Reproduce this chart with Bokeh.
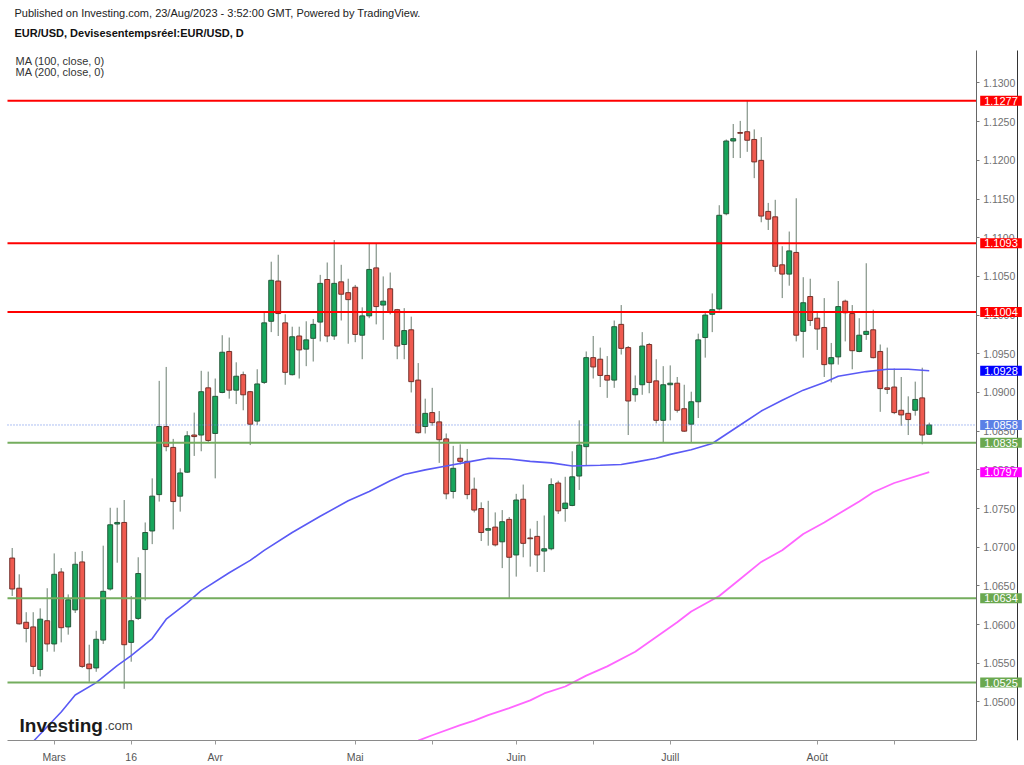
import pandas as pd
from bokeh.plotting import figure
from bokeh.models import Range1d, FixedTicker, PrintfTickFormatter, Label, ColumnDataSource, LinearAxis
from bokeh.embed import file_html
from bokeh.resources import INLINE

# ---------------- data ----------------
dates = pd.bdate_range("2023-02-21", "2023-08-23")

opens = [1.0686, 1.0647, 1.0603, 1.0597, 1.0542, 1.0605, 1.0575, 1.0668, 1.0597, 1.0619,
         1.0681, 1.0549, 1.0544, 1.0580, 1.0646, 1.0730, 1.0732, 1.0577, 1.0608, 1.0697,
         1.0721, 1.0768, 1.0856, 1.0829, 1.0766, 1.0797, 1.0845, 1.0845, 1.0906, 1.0847,
         1.0900, 1.0953, 1.0903, 1.0923, 1.0901, 1.0863, 1.0913, 1.0992, 1.1044, 1.0990,
         1.0923, 1.0973, 1.0956, 1.0970, 1.0991, 1.1046, 1.0973, 1.1043, 1.1029, 1.1036,
         1.0974, 1.0999, 1.1061, 1.1013, 1.1034, 1.1007, 1.0962, 1.0981, 1.0916, 1.0856,
         1.0874, 1.0862, 1.0840, 1.0772, 1.0815, 1.0811, 1.0775, 1.0750, 1.0722, 1.0726,
         1.0707, 1.0736, 1.0690, 1.0762, 1.0712, 1.0714, 1.0695, 1.0698, 1.0783, 1.0750,
         1.0754, 1.0792, 1.0830, 1.0945, 1.0943, 1.0922, 1.0916, 1.0988, 1.0958, 1.0897,
         1.0910, 1.0962, 1.0915, 1.0864, 1.0910, 1.0912, 1.0879, 1.0859, 1.0888, 1.0971,
         1.1001, 1.1008, 1.1131, 1.1225, 1.1236, 1.1237, 1.1227, 1.1200, 1.1134, 1.1127,
         1.1065, 1.1053, 1.1081, 1.0979, 1.1024, 1.0996, 1.0984, 1.0937, 1.0946, 1.1018,
         1.1002, 1.0953, 1.0975, 1.0981, 1.0953, 1.0906, 1.0907, 1.0877, 1.0873, 1.0877,
         1.0893, 1.0846]
highs = [1.0699, 1.0665, 1.0616, 1.0616, 1.0621, 1.0647, 1.0692, 1.0673, 1.0639, 1.0694,
         1.0695, 1.0574, 1.0592, 1.0702, 1.0751, 1.0751, 1.0761, 1.0637, 1.0687, 1.0732,
         1.0789, 1.0915, 1.0933, 1.0840, 1.0802, 1.0850, 1.0874, 1.0928, 1.0927, 1.0918,
         1.0974, 1.0971, 1.0939, 1.0927, 1.0902, 1.0930, 1.1003, 1.1069, 1.1078, 1.1001,
         1.0985, 1.0985, 1.0992, 1.0995, 1.1052, 1.1068, 1.1097, 1.1065, 1.1047, 1.1039,
         1.1010, 1.1093, 1.1093, 1.1050, 1.1055, 1.1008, 1.1009, 1.0998, 1.0938, 1.0892,
         1.0906, 1.0876, 1.0847, 1.0831, 1.0833, 1.0827, 1.0790, 1.0758, 1.0760, 1.0745,
         1.0748, 1.0739, 1.0769, 1.0781, 1.0724, 1.0734, 1.0741, 1.0789, 1.0786, 1.0791,
         1.0824, 1.0864, 1.0953, 1.0973, 1.0958, 1.0947, 1.0993, 1.1013, 1.0960, 1.0922,
         1.0978, 1.0964, 1.0943, 1.0934, 1.0935, 1.0920, 1.0910, 1.0901, 1.0976, 1.1005,
         1.1028, 1.1142, 1.1227, 1.1247, 1.1251, 1.1277, 1.1240, 1.1230, 1.1145, 1.1149,
         1.1089, 1.1108, 1.1151, 1.1049, 1.1047, 1.1003, 1.1022, 1.0964, 1.1044, 1.1020,
         1.1013, 1.0996, 1.1067, 1.1007, 1.0962, 1.0958, 1.0931, 1.0920, 1.0895, 1.0914,
         1.0932, 1.0861]
lows = [1.0637, 1.0600, 1.0577, 1.0536, 1.0533, 1.0565, 1.0565, 1.0577, 1.0587, 1.0615,
        1.0544, 1.0526, 1.0539, 1.0575, 1.0644, 1.0680, 1.0517, 1.0552, 1.0606, 1.0631,
        1.0704, 1.0759, 1.0824, 1.0723, 1.0746, 1.0796, 1.0818, 1.0824, 1.0836, 1.0789,
        1.0899, 1.0892, 1.0885, 1.0877, 1.0832, 1.0858, 1.0911, 1.0978, 1.0973, 1.0910,
        1.0922, 1.0918, 1.0934, 1.0940, 1.0966, 1.0965, 1.0968, 1.0993, 1.0963, 1.0965,
        1.0943, 1.0996, 1.0988, 1.0968, 1.1001, 1.0943, 1.0943, 1.0900, 1.0847, 1.0847,
        1.0857, 1.0809, 1.0762, 1.0763, 1.0807, 1.0762, 1.0745, 1.0708, 1.0702, 1.0701,
        1.0673, 1.0634, 1.0662, 1.0687, 1.0675, 1.0668, 1.0668, 1.0696, 1.0743, 1.0733,
        1.0753, 1.0774, 1.0805, 1.0918, 1.0907, 1.0893, 1.0906, 1.0949, 1.0845, 1.0888,
        1.0897, 1.0899, 1.0860, 1.0835, 1.0864, 1.0874, 1.0849, 1.0835, 1.0867, 1.0945,
        1.0978, 1.1006, 1.1129, 1.1203, 1.1203, 1.1211, 1.1177, 1.1120, 1.1110, 1.1056,
        1.1022, 1.1038, 1.0966, 1.0945, 1.0986, 1.0955, 1.0920, 1.0913, 1.0936, 1.0966,
        1.0930, 1.0952, 1.0968, 1.0944, 1.0875, 1.0898, 1.0872, 1.0857, 1.0845, 1.0870,
        1.0833, 1.0845]
closes = [1.0646, 1.0601, 1.0595, 1.0546, 1.0607, 1.0575, 1.0665, 1.0596, 1.0632, 1.0678,
          1.0546, 1.0543, 1.0581, 1.0643, 1.0729, 1.0732, 1.0574, 1.0605, 1.0666, 1.0719,
          1.0766, 1.0856, 1.0830, 1.0759, 1.0796, 1.0844, 1.0843, 1.0901, 1.0838, 1.0895,
          1.0952, 1.0903, 1.0921, 1.0897, 1.0859, 1.0911, 1.0990, 1.1045, 1.1002, 1.0926,
          1.0972, 1.0955, 1.0968, 1.0988, 1.1041, 1.0973, 1.1041, 1.1027, 1.1020, 1.0975,
          1.0999, 1.1059, 1.1011, 1.1018, 1.1004, 1.0960, 1.0980, 1.0914, 1.0848, 1.0873,
          1.0861, 1.0839, 1.0769, 1.0802, 1.0811, 1.0768, 1.0748, 1.0719, 1.0724, 1.0703,
          1.0733, 1.0687, 1.0761, 1.0705, 1.0711, 1.0690, 1.0698, 1.0781, 1.0747, 1.0757,
          1.0791, 1.0832, 1.0945, 1.0933, 1.0922, 1.0916, 1.0985, 1.0957, 1.0889, 1.0905,
          1.0960, 1.0913, 1.0864, 1.0910, 1.0912, 1.0877, 1.0850, 1.0888, 1.0968, 1.1000,
          1.1007, 1.1129, 1.1225, 1.1228, 1.1235, 1.1226, 1.1198, 1.1128, 1.1124, 1.1063,
          1.1053, 1.1083, 1.0974, 1.1016, 1.0993, 1.0982, 1.0936, 1.0945, 1.1011, 1.1003,
          1.0954, 1.0974, 1.0979, 1.0945, 1.0905, 1.0904, 1.0874, 1.0871, 1.0865, 1.0891,
          1.0845, 1.0858]

# moving averages, sampled along the drawn curves (candle index, value)
ma100_idx = [3, 7, 9, 12, 15, 17, 20, 22, 25, 27, 31, 34, 36, 40, 44, 48, 51, 54, 56, 59,
             62, 65, 68, 71, 74, 77, 80, 84, 87, 89, 92, 94, 97, 100, 102, 104, 107, 110,
             113, 116, 118, 122, 125, 128, 131]
ma100_val = [1.0449, 1.0487, 1.0509, 1.0525, 1.0547, 1.0560, 1.0582, 1.0607, 1.0628, 1.0644,
             1.0667, 1.0683, 1.0696, 1.0719, 1.0740, 1.0760, 1.0772, 1.0786, 1.0794, 1.0800,
             1.0805, 1.0810, 1.0815, 1.0814, 1.0811, 1.0809, 1.0805, 1.0806, 1.0807, 1.0810,
             1.0815, 1.0820, 1.0826, 1.0834, 1.0846, 1.0858, 1.0876, 1.0890, 1.0903, 1.0913,
             1.0921, 1.0927, 1.0930, 1.0930, 1.0928]
ma200_idx = [58, 60, 64, 66, 68, 71, 74, 76, 79, 82, 85, 89, 92, 95, 97, 101, 104, 107, 110,
             113, 116, 118, 121, 123, 126, 131]
ma200_val = [1.0450, 1.0457, 1.0470, 1.0476, 1.0483, 1.0492, 1.0502, 1.0511, 1.0520, 1.0534,
             1.0546, 1.0565, 1.0584, 1.0603, 1.0617, 1.0637, 1.0659, 1.0681, 1.0696, 1.0717,
             1.0732, 1.0743, 1.0759, 1.0771, 1.0783, 1.0797]

resistance_levels = [1.1277, 1.1093, 1.1004]
support_levels = [1.0835, 1.0634, 1.0525]

y_tick_vals = [1.0500, 1.0550, 1.0600, 1.0650, 1.0700, 1.0750, 1.0800, 1.0850, 1.0900,
               1.0950, 1.1000, 1.1050, 1.1100, 1.1150, 1.1200, 1.1250, 1.1300]
x_tick_dates = ["2023-03-01", "2023-03-16", "2023-04-03", "2023-05-01", "2023-05-16",
                "2023-06-01", "2023-06-16", "2023-07-03", "2023-08-01", "2023-08-16"]
x_tick_labels = ["Mars", "16", "Avr", "Mai", "", "Juin", "", "Juill", "Août", ""]

header_1 = "Published on Investing.com, 23/Aug/2023 - 3:52:00 GMT, Powered by TradingView."
header_2 = "EUR/USD, Devisesentempsréel:EUR/USD, D"
legend_1 = "MA (100, close, 0)"
legend_2 = "MA (200, close, 0)"

# ---------------- layout / styles ----------------
FONT = "Liberation Sans"
UP_FILL, UP_LINE = "#17a65c", "#25583a"
DN_FILL, DN_LINE = "#ef5a4f", "#74302a"
WICK = "#6b7d70"
RED = "#ff0000"
GREEN = "#6aa84f"
GREEN_LINE = "#74ad5e"
BLUE_MA = "#5a5af5"
PINK_MA = "#ff66ff"
LAST_COL = "#5b80e6"

X_START, X_END = -1.671, 144.61          # plot frame spans the full page width
Y_START, Y_END = 1.04502, 1.14066        # frame spans page top to the time axis
PANE_LEFT = -0.671                       # left edge of the price pane
PRICE_AXIS_X = 137.71                    # position of the price scale
BORDER_X = 143.61                        # right edge of the price scale
PANE_TOP = 1.13422

n = len(opens)
xs = list(range(n))
up = [c >= o for o, c in zip(opens, closes)]
src = ColumnDataSource(dict(
    x=xs, high=highs, low=lows,
    top=[max(o, c) for o, c in zip(opens, closes)],
    bottom=[min(o, c) for o, c in zip(opens, closes)],
    fill=[UP_FILL if u else DN_FILL for u in up],
    line=[UP_LINE if u else DN_LINE for u in up],
))

p = figure(width=1024, height=765, output_backend="svg", toolbar_location=None,
           x_range=Range1d(X_START, X_END), y_range=Range1d(Y_START, Y_END),
           y_axis_location=None, min_border_left=0, min_border_right=0,
           min_border_top=0, min_border_bottom=23)
p.xgrid.visible = False
p.ygrid.visible = False
p.outline_line_color = None
p.background_fill_color = "white"
p.border_fill_color = "white"

# time axis
tick_pos = [int(dates.get_loc(pd.Timestamp(d))) for d in x_tick_dates]
xa = p.xaxis[0]
xa.ticker = FixedTicker(ticks=tick_pos)
xa.major_label_overrides = {t: lab for t, lab in zip(tick_pos, x_tick_labels)}
xa.bounds = (PANE_LEFT, PRICE_AXIS_X)
xa.axis_line_color = "#8a8a8a"
xa.major_tick_line_color = "#9a9a9a"
xa.major_tick_in = 0
xa.major_tick_out = 4
xa.minor_tick_line_color = None
xa.major_label_text_font = FONT
xa.major_label_text_font_size = "10.5px"
xa.major_label_text_color = "#555555"
xa.major_label_standoff = 6

# price axis (placed inside the frame at the price-scale position)
ya = LinearAxis(fixed_location=PRICE_AXIS_X, ticker=FixedTicker(ticks=y_tick_vals),
                formatter=PrintfTickFormatter(format="%.4f"), bounds=(Y_START, PANE_TOP))
ya.axis_line_color = "#666666"
ya.major_tick_line_color = "#777777"
ya.major_tick_in = 0
ya.major_tick_out = 3
ya.minor_tick_line_color = None
ya.major_label_text_font = FONT
ya.major_label_text_font_size = "10.5px"
ya.major_label_text_color = "#707070"
ya.major_label_standoff = 4
p.add_layout(ya, "right")

# right border of the price scale
yb = LinearAxis(fixed_location=BORDER_X, ticker=FixedTicker(ticks=[]), bounds=(Y_START, PANE_TOP))
yb.axis_line_color = "#333333"
yb.major_tick_line_color = None
yb.minor_tick_line_color = None
yb.major_label_text_font_size = "0px"
p.add_layout(yb, "right")

# horizontal levels (drawn first, under candles? TradingView draws them on top)
lv_all = resistance_levels + support_levels
lv_col = [RED] * len(resistance_levels) + [GREEN_LINE] * len(support_levels)

# candles
p.segment(x0="x", y0="low", x1="x", y1="high", source=src, line_color=WICK, line_width=1)
p.vbar(x="x", width=0.7, top="top", bottom="bottom", source=src,
       fill_color="fill", line_color="line", line_width=1)

# moving averages
p.line(ma100_idx, ma100_val, line_color=BLUE_MA, line_width=1.6)
p.line(ma200_idx, ma200_val, line_color=PINK_MA, line_width=1.8)

# level lines and last-price line, across the pane up to the price scale
p.segment(x0=[PANE_LEFT] * len(lv_all), x1=[PRICE_AXIS_X] * len(lv_all),
          y0=lv_all, y1=lv_all, line_color=lv_col, line_width=2)
p.segment(x0=[PANE_LEFT], x1=[PRICE_AXIS_X], y0=[closes[-1]], y1=[closes[-1]],
          line_color=LAST_COL, line_width=1, line_dash="1 2")

# price tags on the price scale
tags = [(v, RED) for v in resistance_levels] + [(ma100_val[-1], "#0000ff"),
        (closes[-1], LAST_COL), (support_levels[0], GREEN), (ma200_val[-1], "#ff00ff"),
        (support_levels[1], GREEN), (support_levels[2], GREEN)]
for v, col in tags:
    p.add_layout(Label(x=PRICE_AXIS_X, y=v, x_offset=4, text="%.4f" % v,
                       text_font=FONT, text_font_size="11px", text_color="white",
                       text_align="left", text_baseline="middle",
                       background_fill_color=col, background_fill_alpha=1.0,
                       padding=dict(left=4, right=4, top=1, bottom=1)))

# texts (screen units relative to the frame, origin bottom-left; frame bottom = page y 742)
def add_text(x, y, text, size, bold=False, color="#222222", baseline="middle"):
    p.add_layout(Label(x=x, y=y, x_units="screen", y_units="screen", text=text,
                       text_font=FONT, text_font_size=size, text_color=color,
                       text_font_style="bold" if bold else "normal",
                       text_align="left", text_baseline=baseline))

add_text(14, 728, header_1, "11px", color="#222222")
add_text(14, 708, header_2, "11px", bold=True, color="#111111")
add_text(15, 680, legend_1, "11px", color="#333333")
add_text(15, 669, legend_2, "11px", color="#333333")
add_text(19, 15, "Investing", "19px", bold=True, color="#1a1a1a", baseline="alphabetic")
add_text(104, 15, ".com", "13px", color="#444444", baseline="alphabetic")

open("out.html", "w").write(file_html(p, INLINE))
